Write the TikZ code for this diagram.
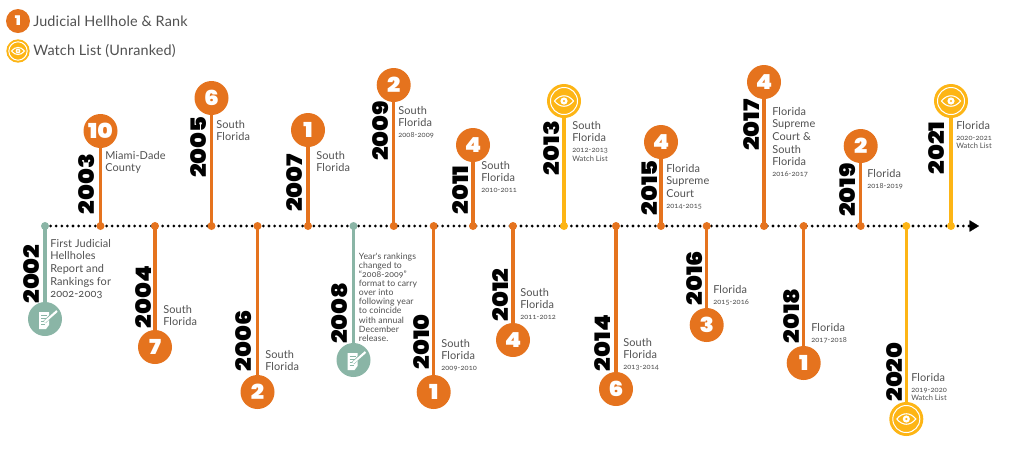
\documentclass[tikz,border=0pt]{standalone}
\usepackage{fontspec}
\usetikzlibrary{arrows.meta}
\setmainfont{Lato}
\newfontfamily\yrfont{Poppins}[UprightFont=* Black,FakeStretch=1.13]
\newfontfamily\lblfont{Lato}[Numbers=OldStyle,LetterSpace=1]
\definecolor{orng}{HTML}{E5731E}
\definecolor{yel}{HTML}{FDB515}
\definecolor{teal2}{HTML}{8AB5A6}
\definecolor{ink}{HTML}{505050}
\newcommand{\dtf}{\fontsize{5.6}{6.6}\selectfont}
\tikzset{
 x=0.75pt,y=-0.75pt,
 dotnode/.style={circle,minimum size=6pt,inner sep=0pt,fill=#1},
 badge/.style={circle,minimum size=25.5pt,inner sep=0pt,fill=#1,text=white,font=\yrfont\fontsize{15.5}{15.5}\selectfont},
 stem/.style={draw=#1,line width=2.4pt},
 yearlbl/.style={rotate=90,inner sep=0pt,text=black,font=\yrfont\fontsize{16}{16}\selectfont},
 lbl/.style={anchor=north west,inner sep=0pt,align=left,text=ink,font=\lblfont\fontsize{8.2}{9.45}\selectfont},
 smalllbl/.style={lbl,font=\lblfont\fontsize{6.5}{6.85}\selectfont},
 leg/.style={anchor=west,inner sep=0pt,text=ink,font=\lblfont\fontsize{10.8}{13}\selectfont},
 axisline/.style={draw=black,line width=2.3pt,line cap=round,dash pattern=on 0pt off 4.2pt},
 axistip/.style={draw=black,line width=0.1pt,-{Triangle[length=7pt,width=8.5pt,fill=black]}},
 eyeic/.pic={
  \draw[white,line width=0.75pt] (0,0) circle (13.5);
  \draw[white,line width=0.8pt] (-9.5,0) .. controls (-4,-7) and (4,-7) .. (9.5,0) .. controls (4,7) and (-4,7) .. (-9.5,0) -- cycle;
  \fill[white] (0,0) circle (3.6);
  \fill[yel] (0,0) circle (1.2);
 },
 docic/.pic={
  \fill[white] (-6,-7) -- (4,-7) -- (4,6) -- (1,10) -- (-6,10) -- cycle;
  \draw[teal2,line width=0.6pt] (-4,-3.5) -- (2,-3.5) (-4,-0.5) -- (1,-0.5) (-4,2.5) -- (0,2.5) (-4,5.5) -- (0,5.5);
  \draw[teal2,line width=2.4pt] (-0.5,3) -- (12,-9);
  \draw[white,line width=1.6pt] (-0.5,3) -- (12,-8);
 },
}
\begin{document}
\begin{tikzpicture}
\useasboundingbox (0,0) rectangle (1024,455);
% axis
\coordinate (axstart) at (45,226);
\coordinate (axend) at (970,226);
\coordinate (tipstart) at (968,226);
\coordinate (tipend) at (979,226);
\draw[axisline] (axstart) -- (axend);
\draw[axistip] (tipstart) -- (tipend);
% events: year / x / badge y / colour / symbol
\foreach \n/\x/\cy/\col/\sym in {
 2002/45/319/teal2/{},2003/100.5/131/orng/10,2004/155/347/orng/7,2005/211.5/98/orng/6,
 2006/257.5/392/orng/2,2007/308/130/orng/1,2008/353.5/360/teal2/{},2009/393.7/85/orng/2,
 2010/433.7/392/orng/1,2011/473/145/orng/4,2012/513/340/orng/4,2013/564/101/yel/{},
 2014/616/389/orng/6,2015/661/142/orng/4,2016/706.7/325/orng/3,2017/764/82/orng/4,
 2018/803.7/363/orng/1,2019/860.7/146/orng/2,2020/906.3/419/yel/{},2021/951/101/yel/{}}{
 \node[dotnode=\col] (d\n) at (\x,226) {};
 \node[badge=\col] (c\n) at (\x,\cy) {\sym};
 \draw[stem=\col] (d\n.center) -- (c\n);
}
\pic at (c2002) {docic};
\pic at (c2008) {docic};
\pic at (c2013) {eyeic};
\pic at (c2020) {eyeic};
\pic at (c2021) {eyeic};
% years
\foreach \n/\x/\y in {2002/32/274,2003/87/184,2004/144/297,2005/199/147,2006/244/341,2007/295/183,
 2008/340/313,2009/381/131,2010/422/342,2011/461/190,2012/501/295,2013/552/148,2014/603/343,
 2015/650/188,2016/695/278,2017/752/125,2018/792/316,2019/848/190,2020/895/372,2021/937/148}{
 \node[yearlbl] (y\n) at (\x,\y) {\n};
}
% labels
\node[lbl] (t2002) at (50,239) {First Judicial\\Hellholes\\Report and\\Rankings for\\2002-2003};
\node[lbl] (t2003) at (105,151) {Miami-Dade\\County};
\node[lbl] (t2004) at (163,305) {South\\Florida};
\node[lbl] (t2005) at (216,120) {South\\Florida};
\node[lbl] (t2006) at (265,350) {South\\Florida};
\node[lbl] (t2007) at (316,151) {South\\Florida};
\node[smalllbl] (t2008) at (358.7,252.5) {Year's rankings\\changed to\\“2008-2009”\\format to carry\\over into\\following year\\to coincide\\with annual\\December\\release.};
\node[lbl] (t2009) at (398,106) {South\\Florida\\[-1.4pt]\dtf 2008-2009};
\node[lbl] (t2010) at (441,339) {South\\Florida\\[-1.4pt]\dtf 2009-2010};
\node[lbl] (t2011) at (481,161) {South\\Florida\\[-1.4pt]\dtf 2010-2011};
\node[lbl] (t2012) at (520,288) {South\\Florida\\[-1.4pt]\dtf 2011-2012};
\node[lbl] (t2013) at (572,121) {South\\Florida\\[-1.4pt]\dtf 2012-2013\\[-3pt]\dtf Watch List};
\node[lbl] (t2014) at (623,338) {South\\Florida\\[-1.4pt]\dtf 2013-2014};
\node[lbl] (t2015) at (666,164) {Florida\\Supreme\\Court\\[-1.4pt]\dtf 2014-2015};
\node[lbl] (t2016) at (713,285) {Florida\\[-1.4pt]\dtf 2015-2016};
\node[lbl] (t2017) at (772,107) {Florida\\Supreme\\Court \&\\South\\Florida\\[-1.4pt]\dtf 2016-2017};
\node[lbl] (t2018) at (811,323) {Florida\\[-1.4pt]\dtf 2017-2018};
\node[lbl] (t2019) at (867,169) {Florida\\[-1.4pt]\dtf 2018-2019};
\node[lbl] (t2020) at (911,373) {Florida\\[-1.4pt]\dtf 2019-2020\\[-3pt]\dtf Watch List};
\node[lbl] (t2021) at (956,121) {Florida\\[-1.4pt]\dtf 2020-2021\\[-3pt]\dtf Watch List};
% legend
\node[badge=orng,minimum size=18pt,font=\yrfont\fontsize{10}{10}\selectfont] (legrank) at (18,21) {1};
\node[badge=yel,minimum size=17.5pt] (legwatch) at (18,51) {};
\pic[scale=0.68] at (legwatch) {eyeic};
\node[leg] (legranktxt) at (33,21) {Judicial Hellhole \& Rank};
\node[leg] (legwatchtxt) at (33,51) {Watch List (Unranked)};
\end{tikzpicture}
\end{document}
